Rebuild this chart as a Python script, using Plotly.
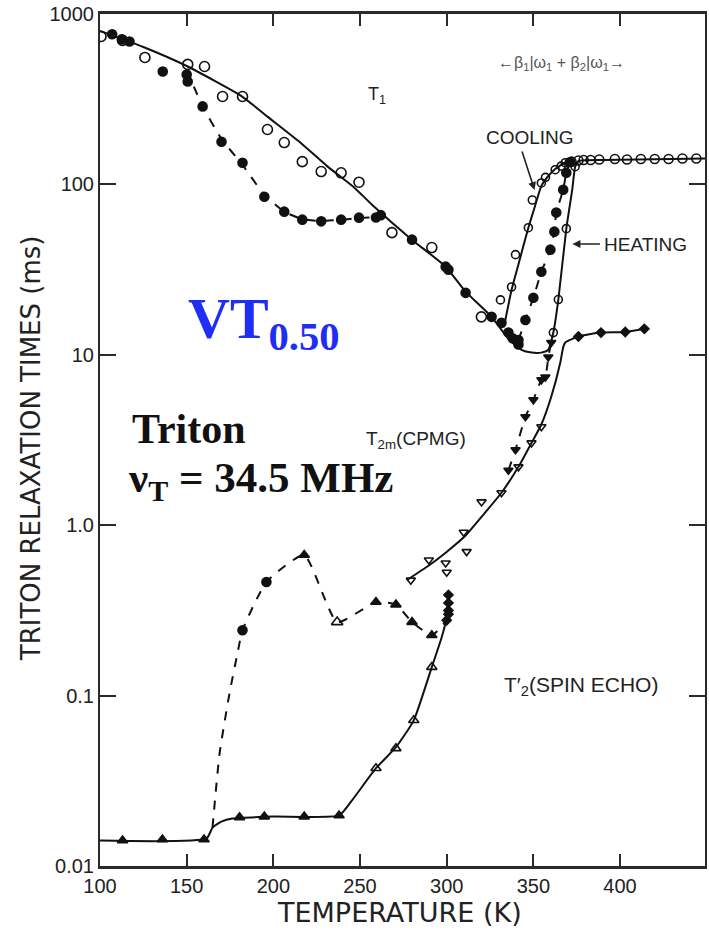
import plotly.graph_objects as go

# ---------------- data ----------------
# T1 fit (solid): main T1 curve, its minimum, heating branch, plateau
t1_fit_x = [100, 125, 150.6, 181.6, 196.6, 215, 231, 246.6, 256.9, 279.9, 299.4, 310.9,
            325.9, 335.6, 343.1, 349, 354.6, 358.6, 361.5, 364.4, 369, 372.4, 374.1, 376,
            390, 410, 430, 449]
t1_fit_y = [795, 640, 492, 330, 250, 178, 128, 96, 76, 47.4, 32.9, 23.5,
            16.7, 12.4, 10.7, 10.3, 10.3, 10.7, 13.5, 21.1, 55, 93, 127, 137,
            139, 140, 141, 142]

# cooling branch (solid)
cool_x = [333, 337.4, 341.4, 347.1, 351, 354.6, 358.6, 362.6, 368.4, 374]
cool_y = [14.5, 24, 34, 55.7, 75, 98, 112, 123, 134, 138]
cool_pts_x = [331, 337.4, 339.7, 347.1, 349.4, 354.6, 357, 362.6, 366, 368.4]
cool_pts_y = [21, 25, 38.7, 55.7, 81, 102, 110, 122, 128, 134]

# heating open circles
heat_pts_x = [361.5, 364.4, 369, 374.1]
heat_pts_y = [13.5, 21.1, 55, 127]

# plateau open circles
plat_x = [372, 376, 379, 383, 388, 397, 404, 412, 420, 428, 436, 444]
plat_y = [136, 138, 139, 139, 140, 141, 140, 141, 141, 141, 142, 142]

# T1 open circles (upper branch)
t1_open_x = [100.6, 113, 125.9, 150.6, 160.3, 170.7, 182.2, 196.6, 206.3, 216.7, 227.6,
             239.1, 249.4, 268.4, 291.4, 320]
t1_open_y = [738, 700, 556, 506, 492, 328, 328, 210, 176, 136, 119,
             117, 103, 52.1, 42.6, 16.7]

# T1 filled circles (dashed branch)
t1_dash_x = [150, 159.2, 170.1, 182.2, 194.8, 206.3, 216.7, 227.6, 239.1, 249.4, 259.2]
t1_dash_y = [470, 287, 185, 130, 87, 69.2, 62.5, 61, 62, 63.5, 64]
t1_fill_x = [107, 112.6, 117, 136.2, 150, 150.6, 159.2, 170.1, 182.2, 194.8, 206.3,
             216.7, 227.6, 239.1, 249.4, 259.2, 262, 280, 299.4, 301, 310.9, 325.9,
             331.6, 335.6, 338, 341.4]
t1_fill_y = [760, 710, 690, 460, 441, 402, 287, 178, 134, 84.7, 69.2,
             62.1, 60.7, 62.1, 63.8, 64, 66, 47.4, 32.9, 31.6, 23.1, 16.7,
             15.4, 13.5, 12.5, 11.5]

# hysteresis middle branch (filled, dashed)
mid_x = [341.4, 345.4, 350, 354.6, 359.8, 362.1, 363.2, 367.2, 369, 371]
mid_y = [12.2, 16, 21.6, 30.7, 41.4, 52.8, 68.3, 93, 117, 135]

# T2m (CPMG) solid
t2m_x = [277, 289.7, 299.4, 310.9, 320.1, 331.6, 341.4, 348.9, 354.6, 360.3, 365.5,
         367.2, 368.4, 375.9, 389.1, 402.9, 414.4]
t2m_y = [0.476, 0.58, 0.69, 0.87, 1.12, 1.55, 2.2, 3.04, 3.9, 5.67, 8.98,
         11.1, 11.8, 12.8, 13.5, 13.6, 14.2]
t2m_pts_x = [279.3, 289.7, 299.4, 300, 309.8, 311.5, 320.1, 331.6, 341.4, 348.9, 354.6]
t2m_pts_y = [0.476, 0.625, 0.60, 0.53, 0.91, 0.70, 1.37, 1.55, 2.2, 3.04, 3.78]
t2m_plat_x = [376, 389, 403, 414]
t2m_plat_y = [12.8, 13.5, 13.6, 14.2]
# T2m dashed branch
t2md_x = [335.6, 339.7, 345.4, 350, 354.6, 356.9, 358.6, 360.3]
t2md_y = [2.1, 2.77, 4.33, 5.44, 7.13, 7.4, 9.7, 11.8]

# T2' spin echo solid
t2s_x = [100, 161.5, 164.9, 170, 176.4, 200, 237.9, 245.4, 259.2, 270.7, 281, 291.4,
         297.1, 300, 301.1]
t2s_y = [0.0141, 0.01452, 0.0168, 0.0182, 0.0190, 0.0195, 0.0198, 0.0243, 0.0375,
         0.0498, 0.0716, 0.147, 0.22, 0.289, 0.40]
t2s_fill_x = [113, 136, 160, 180.5, 194.8, 217.8, 237.9]
t2s_fill_y = [0.0141, 0.0143, 0.0143, 0.0193, 0.0195, 0.0195, 0.0198]
t2s_open_x = [259.2, 270.7, 281, 291.4]
t2s_open_y = [0.0375, 0.049, 0.0716, 0.147]
t2s_stack_x = [300, 301, 301, 301, 301]
t2s_stack_y = [0.277, 0.30, 0.316, 0.35, 0.39]
# T2' dashed
t2sd_x = [164.9, 169, 174.7, 179.3, 182.2, 196, 217.8, 236.8, 259.2, 270.7, 280, 291.4, 300]
t2sd_y = [0.0168, 0.0459, 0.103, 0.177, 0.242, 0.464, 0.668, 0.27, 0.354, 0.342, 0.27,
          0.226, 0.277]
t2sd_circ_x = [182.2, 196]
t2sd_circ_y = [0.242, 0.464]
t2sd_tri_x = [217.8, 259.2, 270.7, 280, 291.4]
t2sd_tri_y = [0.668, 0.354, 0.342, 0.27, 0.226]
t2sd_open_x = [236.8]
t2sd_open_y = [0.27]

x_ticks = [100, 150, 200, 250, 300, 350, 400]
y_ticks = [0.01, 0.1, 1, 10, 100, 1000]
y_ticktext = ["0.01", "0.1", "1.0", "10", "100", "1000"]

# ---------------- figure ----------------
INK = "#111111"
fig = go.Figure()


def line(x, y, dash="solid"):
    fig.add_trace(go.Scatter(x=x, y=y, mode="lines",
                             line=dict(color=INK, width=2, dash=dash, shape="spline",
                                       smoothing=0.5),
                             hoverinfo="skip"))


def pts(x, y, symbol, size=9):
    fig.add_trace(go.Scatter(x=x, y=y, mode="markers",
                             marker=dict(symbol=symbol, size=size, color=INK,
                                         line=dict(color=INK, width=1.6)),
                             hoverinfo="skip"))


line(t1_fit_x, t1_fit_y)
line(cool_x, cool_y)
line(t1_dash_x, t1_dash_y, "dash")
line(mid_x, mid_y, "dash")
line(t2m_x, t2m_y)
line(t2md_x, t2md_y, "dash")
line(t2s_x, t2s_y)
line(t2sd_x, t2sd_y, "dash")

pts(t1_open_x, t1_open_y, "circle-open", 10)
pts(t1_fill_x, t1_fill_y, "circle", 9)
pts(cool_pts_x, cool_pts_y, "circle-open", 8)
pts(heat_pts_x, heat_pts_y, "circle-open", 8)
pts(plat_x, plat_y, "circle-open", 9)
pts(mid_x, mid_y, "circle", 9)
pts(t2m_pts_x, t2m_pts_y, "triangle-down-open", 8)
pts(t2m_plat_x, t2m_plat_y, "diamond", 7)
pts(t2md_x, t2md_y, "triangle-down", 8)
pts(t2s_fill_x, t2s_fill_y, "triangle-up", 9)
pts(t2s_open_x, t2s_open_y, "triangle-up-open", 9)
pts(t2s_stack_x, t2s_stack_y, "diamond", 7)
pts(t2sd_circ_x, t2sd_circ_y, "circle", 9)
pts(t2sd_tri_x, t2sd_tri_y, "triangle-up", 9)
pts(t2sd_open_x, t2sd_open_y, "triangle-up-open", 10)

# plot area in pixels: x 100..707, y 14..866
L, R, T, B = 100, 707, 14, 866


def P(px, py):
    return dict(x=(px - L) / (R - L), y=(B - py) / (B - T), xref="paper", yref="paper")


ann = []
sans = "Liberation Sans, Arial, sans-serif"
serif = "Liberation Serif, Times New Roman, serif"


def text(px, py, s, size, family=sans, color="#222", xanchor="center", yanchor="middle",
         angle=0):
    d = P(px, py)
    d.update(text=s, showarrow=False, xanchor=xanchor, yanchor=yanchor, textangle=angle,
             font=dict(family=family, size=size, color=color))
    ann.append(d)


def arrow(hx, hy, tx, ty):
    d = P(hx, hy)
    d.update(text="", showarrow=True, ax=tx - hx, ay=ty - hy, arrowhead=2, arrowsize=1,
             arrowwidth=1.6, arrowcolor="#222", standoff=0)
    ann.append(d)


text(378, 96, "T<sub>1</sub>", 18)
text(563, 64, "←β<sub>1</sub>|ω<sub>1</sub> + β<sub>2</sub>|ω<sub>1</sub>→", 16, color="#555")
text(531, 137, "COOLING", 19)
arrow(536, 190, 523, 150)
text(604, 245, "HEATING", 19, xanchor="left")
arrow(574, 244, 603, 244)
text(365, 440, "T<sub>2m</sub>(CPMG)", 19, xanchor="left")
text(503, 686, "T′<sub>2</sub>(SPIN ECHO)", 21, xanchor="left")
text(186, 322, "<b>VT<sub>0.50</sub></b>", 58, family=serif, color="#1f2ef5",
     xanchor="left")
text(130, 429, "<b>Triton</b>", 42, family=serif, color="#111", xanchor="left")
text(126, 481, "<b>ν<sub>T</sub> = 34.5 MHz</b>", 43, family=serif, color="#111",
     xanchor="left")
text(31, 448, "TRITON RELAXATION TIMES (ms)", 26, family="DejaVu Sans, sans-serif",
     color="#222", angle=-90)
text(400, 912, "TEMPERATURE (K)", 27, family="DejaVu Sans, sans-serif", color="#222")

axis_common = dict(showline=True, linecolor="#2a2a2a", mirror="ticks", ticks="inside",
                   tickcolor="#2a2a2a", tickwidth=2, showgrid=False, zeroline=False,
                   tickfont=dict(family=sans, size=20, color="#222"))

fig.update_layout(
    width=709, height=931,
    margin=dict(l=L, r=709 - R, t=T, b=931 - B),
    paper_bgcolor="white", plot_bgcolor="white",
    showlegend=False,
    xaxis=dict(range=[100, 449], tickvals=x_ticks, ticklen=12, linewidth=3, **axis_common),
    yaxis=dict(type="log", range=[-2, 3], tickvals=y_ticks, ticktext=y_ticktext,
               ticklen=16, linewidth=2, **axis_common),
    annotations=ann,
)

fig.write_html("out.html")
